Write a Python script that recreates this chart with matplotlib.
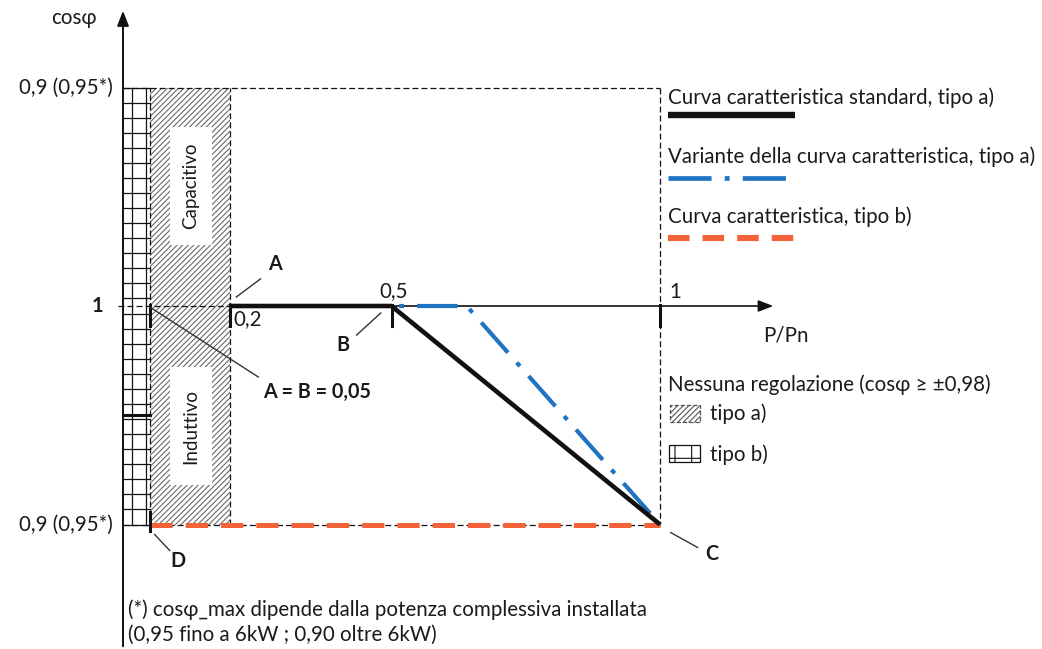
import numpy as np
import matplotlib
matplotlib.use("Agg")
import matplotlib.pyplot as plt
from matplotlib.patches import Rectangle

plt.rcParams['font.family'] = ['Lato', 'DejaVu Sans']
plt.rcParams['lines.scale_dashes'] = False
plt.rcParams['hatch.linewidth'] = 0.8

# dati della caratteristica cosφ(P/Pn)
p_lim_a = 0.05            # A = B = 0,05
p_start = 0.2             # punto A
p_break = 0.5             # punto B
p_var = 0.64              # inizio variante
p_end = 1.0               # punto C
q_cap = 0.1               # 0,9 capacitivo
q_ind = -0.1              # 0,9 induttivo

std_x = [p_start, p_break, p_end]
std_y = [0.0, 0.0, q_ind]
var_x = [p_break, p_var, p_end]
var_y = [0.0, 0.0, q_ind]
tipo_b_x = [p_lim_a, p_end]
tipo_b_y = [q_ind, q_ind]
tick_x = [p_lim_a, p_start, p_break, p_end]

BLACK = '#111111'
BLUE = '#1f73c1'
ORANGE = '#f4623a'
TXT = '#1a1a1a'

W, H = 1042, 649
fig = plt.figure(figsize=(W / 100, H / 100), dpi=100)
ax = fig.add_axes([0, 0, 1, 1])
ax.set_xlim(-123 / 537, (W - 123) / 537)
ax.set_ylim(-(H - 306) / 2185, 306 / 2185)
ax.axis('off')

dash_fine = dict(color=BLACK, lw=0.9, dashes=(4.3, 2.2))

# zona tipo b) (griglia)
ax.add_patch(Rectangle((0, q_ind), p_lim_a, q_cap - q_ind, facecolor='white',
                       edgecolor='none', zorder=1))
for yy in np.linspace(q_ind, q_cap, 30):
    ax.plot([0, p_lim_a], [yy, yy], color=BLACK, lw=0.9, zorder=2)
for xx in [0.016, 0.043]:
    ax.plot([xx, xx], [q_ind, q_cap], color=BLACK, lw=0.9, zorder=2)
ax.plot([0, p_lim_a], [-0.05, -0.05], color=BLACK, lw=2.2, zorder=2)

# zona tipo a) (tratteggio)
ax.add_patch(Rectangle((p_lim_a, q_ind), p_start - p_lim_a, q_cap - q_ind,
                       fill=False, hatch='//////', edgecolor='#6a6a6a', lw=0, zorder=1))
ax.plot([p_lim_a, p_lim_a], [q_ind, q_cap], **dash_fine, zorder=3)
ax.plot([p_start, p_start], [q_ind, q_cap], **dash_fine, zorder=3)

# riquadri bianchi con testo
box_x0, box_x1 = 0.0875, 0.1657
for y0, y1, lab in [(0.028, 0.082, 'Capacitivo'), (-0.082, -0.028, 'Induttivo')]:
    ax.add_patch(Rectangle((box_x0, y0), box_x1 - box_x0, y1 - y0,
                           facecolor='white', edgecolor='none', zorder=4))
    ax.text((box_x0 + box_x1) / 2, (y0 + y1) / 2, lab, rotation=90, ha='center',
            va='center', fontsize=13.5, color=TXT, zorder=5)

# contorno tratteggiato
ax.plot([0, p_end], [q_cap, q_cap], **dash_fine, zorder=3)
ax.plot([p_end, p_end], [q_cap, q_ind], **dash_fine, zorder=3)
ax.plot([0, p_end], [q_ind, q_ind], **dash_fine, zorder=3)
ax.plot([-0.01, p_start], [0, 0], **dash_fine, zorder=3)

# assi con frecce
ax.annotate('', xy=(0, 0.1364), xytext=(0, -0.157),
            arrowprops=dict(arrowstyle='-|>,head_length=0.9,head_width=0.35',
                            color=BLACK, lw=1.4), zorder=6)
ax.annotate('', xy=(1.216, 0), xytext=(p_start, 0),
            arrowprops=dict(arrowstyle='-|>,head_length=0.9,head_width=0.35',
                            color=BLACK, lw=1.2), zorder=6)

# curve
ax.plot(var_x, var_y, color=BLUE, lw=3.0, linestyle=(33, (29, 9.5, 3.5, 9.5)),
        dash_capstyle='butt', zorder=7)
ax.plot(tipo_b_x, tipo_b_y, color=ORANGE, lw=3.6, dashes=(16, 9.4),
        dash_capstyle='butt', zorder=7)
ax.plot(std_x, std_y, color=BLACK, lw=3.3, solid_capstyle='butt', zorder=8)

# tacche
for tx in tick_x:
    ax.plot([tx, tx], [0.0005, -0.009], color=BLACK, lw=2.2, zorder=9)
ax.plot([p_lim_a, p_lim_a], [q_ind + 0.0055, q_ind - 0.003], color=BLACK, lw=2.2, zorder=9)

# linee di richiamo
lead = dict(color='#333333', lw=1.0, zorder=9)
ax.plot([0.211, 0.256], [0.0041, 0.0124], **lead)
ax.plot([0.435, 0.480], [-0.0133, -0.0032], **lead)
ax.plot([p_lim_a, 0.252], [-0.0005, -0.0325], **lead)
ax.plot([0.059, 0.087], [-0.1046, -0.1119], **lead)
ax.plot([1.02, 1.07], [-0.1037, -0.1105], **lead)

# etichette
fs = 14.8
fb = 14.2
ax.text(-0.091, 0.1318, 'cosφ', ha='center', va='center', fontsize=fs, color=TXT)
ax.text(-0.02, q_cap, '0,9 (0,95*)', ha='right', va='center', fontsize=fs, color=TXT)
ax.text(-0.036, 0, '1', ha='right', va='center', fontsize=14.5, color=TXT, fontweight='bold')
ax.text(-0.02, q_ind, '0,9 (0,95*)', ha='right', va='center', fontsize=fs, color=TXT)
ax.text(0.283, 0.019, 'A', ha='center', va='center', fontsize=fb, color=TXT, fontweight='bold')
ax.text(0.205, -0.0058, '0,2', ha='left', va='center', fontsize=fs, color=TXT)
ax.text(p_break + 0.004, 0.0066, '0,5', ha='center', va='center', fontsize=fs, color=TXT)
ax.text(0.409, -0.0178, 'B', ha='center', va='center', fontsize=fb, color=TXT, fontweight='bold')
ax.text(0.26, -0.0394, 'A = B = 0,05', ha='left', va='center', fontsize=fb, color=TXT,
        fontweight='bold')
ax.text(0.102, -0.1165, 'D', ha='center', va='center', fontsize=fb, color=TXT, fontweight='bold')
ax.text(1.097, -0.1137, 'C', ha='center', va='center', fontsize=fb, color=TXT, fontweight='bold')
ax.text(1.028, 0.0066, '1', ha='center', va='center', fontsize=fs, color=TXT)
ax.text(1.192, -0.0135, 'P/Pn', ha='left', va='center', fontsize=fs, color=TXT)

# legenda
lx0 = 1.015
ax.text(lx0, 0.0952, 'Curva caratteristica standard, tipo a)', ha='left', va='center',
        fontsize=fs, color=TXT)
ax.plot([lx0, 1.251], [0.0874, 0.0874], color=BLACK, lw=4.6, solid_capstyle='butt')
ax.text(lx0, 0.0682, 'Variante della curva caratteristica, tipo a)', ha='left', va='center',
        fontsize=fs, color=TXT)
ax.plot([lx0, 1.235], [0.0586, 0.0586], color=BLUE, lw=3.4, dashes=(31, 9.5, 3.5, 9.5),
        dash_capstyle='butt')
ax.text(lx0, 0.0407, 'Curva caratteristica, tipo b)', ha='left', va='center',
        fontsize=fs, color=TXT)
ax.plot([lx0, 1.251], [0.0311, 0.0311], color=ORANGE, lw=4.4, dashes=(15.5, 9.4),
        dash_capstyle='butt')
ax.text(lx0, -0.0362, 'Nessuna regolazione (cosφ ≥ ±0,98)', ha='left', va='center',
        fontsize=fs, color=TXT)
ax.add_patch(Rectangle((1.019, -0.0531), 0.055, 0.0078, fill=False, hatch='//////',
                       edgecolor='#555555', lw=0.9, ls=(0, (3, 1.5))))
ax.text(1.093, -0.0494, 'tipo a)', ha='left', va='center', fontsize=fs, color=TXT)
ax.add_patch(Rectangle((1.017, -0.0714), 0.058, 0.0078, fill=False, hatch='+',
                       edgecolor=BLACK, lw=0.9))
ax.text(1.093, -0.0682, 'tipo b)', ha='left', va='center', fontsize=fs, color=TXT)

# nota
ax.text(0.009, -0.139, '(*) cosφ_max dipende dalla potenza complessiva installata',
        ha='left', va='center', fontsize=fs, color=TXT)
ax.text(0.009, -0.1506, '(0,95 fino a 6kW ; 0,90 oltre 6kW)',
        ha='left', va='center', fontsize=fs, color=TXT)

fig.savefig('out.png', dpi=100, facecolor='white')
